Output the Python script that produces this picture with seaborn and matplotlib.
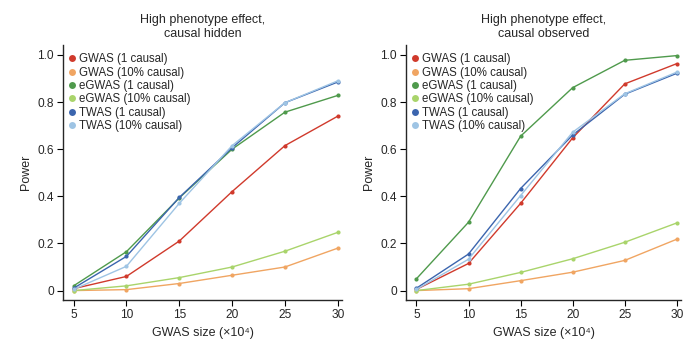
import numpy as np
import pandas as pd
import matplotlib
matplotlib.use("Agg")
import matplotlib.pyplot as plt
import seaborn as sns
from matplotlib.ticker import FuncFormatter

sizes = [5, 10, 15, 20, 25, 30]
methods = ["GWAS (1 causal)", "GWAS (10% causal)", "eGWAS (1 causal)",
           "eGWAS (10% causal)", "TWAS (1 causal)", "TWAS (10% causal)"]
colors = ["#d03a2c", "#f0a562", "#4f9a4c", "#a9d46b", "#3b65ae", "#9ec4e4"]

# causal hidden
hidden_gwas1 = [0.008, 0.06, 0.21, 0.42, 0.615, 0.74]
hidden_gwas10 = [0.0, 0.004, 0.03, 0.065, 0.10, 0.18]
hidden_egwas1 = [0.02, 0.165, 0.393, 0.60, 0.757, 0.828]
hidden_egwas10 = [0.0, 0.02, 0.055, 0.10, 0.167, 0.247]
hidden_twas1 = [0.01, 0.145, 0.395, 0.606, 0.797, 0.885]
hidden_twas10 = [0.005, 0.103, 0.37, 0.615, 0.797, 0.89]

# causal observed
obs_gwas1 = [0.005, 0.115, 0.37, 0.648, 0.877, 0.963]
obs_gwas10 = [0.0, 0.008, 0.042, 0.078, 0.128, 0.218]
obs_egwas1 = [0.05, 0.29, 0.655, 0.861, 0.977, 0.997]
obs_egwas10 = [0.0, 0.027, 0.077, 0.135, 0.205, 0.287]
obs_twas1 = [0.01, 0.155, 0.433, 0.66, 0.833, 0.922]
obs_twas10 = [0.005, 0.133, 0.403, 0.672, 0.835, 0.927]

titles = ["High phenotype effect,\ncausal hidden", "High phenotype effect,\ncausal observed"]
panels = [
    [hidden_gwas1, hidden_gwas10, hidden_egwas1, hidden_egwas10, hidden_twas1, hidden_twas10],
    [obs_gwas1, obs_gwas10, obs_egwas1, obs_egwas10, obs_twas1, obs_twas10],
]

sns.set_theme(style="ticks")
plt.rcParams["font.family"] = ["Liberation Sans", "DejaVu Sans"]
plt.rcParams["axes.linewidth"] = 1.0

fig = plt.figure(figsize=(6.87, 3.39), dpi=100)
axes_pos = [[63 / 687, 39 / 339, 279 / 687, 255 / 339],
            [406 / 687, 39 / 339, 275 / 687, 255 / 339]]

palette = dict(zip(methods, colors))
fs = 9

for p, (vals, title) in enumerate(zip(panels, titles)):
    ax = fig.add_axes(axes_pos[p])
    rows = []
    for m, v in zip(methods, vals):
        for s, y in zip(sizes, v):
            rows.append({"size": s, "power": y, "method": m})
    df = pd.DataFrame(rows)
    sns.lineplot(data=df, x="size", y="power", hue="method", hue_order=methods,
                 palette=palette, marker="o", markersize=3, markeredgewidth=0,
                 linewidth=1.0, ax=ax, legend=False)
    ax.set_xlim(4, 30.4)
    ax.set_ylim(-0.04, 1.042)
    ax.set_xticks(sizes)
    ax.set_yticks([0, 0.2, 0.4, 0.6, 0.8, 1.0])
    ax.yaxis.set_major_formatter(FuncFormatter(lambda v, _: "0" if abs(v) < 1e-9 else f"{v:.1f}"))
    ax.tick_params(labelsize=8.6, length=4, width=0.8, color="black", pad=2.5)
    for sp in ["top", "right"]:
        ax.spines[sp].set_visible(False)
    ax.set_xlabel("GWAS size (\u00d710\u2074)", fontsize=fs, labelpad=4)
    ax.set_ylabel("Power", fontsize=fs, labelpad=4)
    ax.set_title(title, fontsize=fs, pad=6, linespacing=1.2)
    handles = [plt.Line2D([], [], marker="o", linestyle="", color=c, markersize=5,
                          markeredgewidth=0) for c in colors]
    ax.legend(handles, methods, loc="upper left", bbox_to_anchor=(-0.012, 0.995),
              frameon=False, fontsize=8.3, handletextpad=0.05, labelspacing=0.12,
              handlelength=1.0, borderaxespad=0.2)

fig.savefig("out.png", dpi=100)
